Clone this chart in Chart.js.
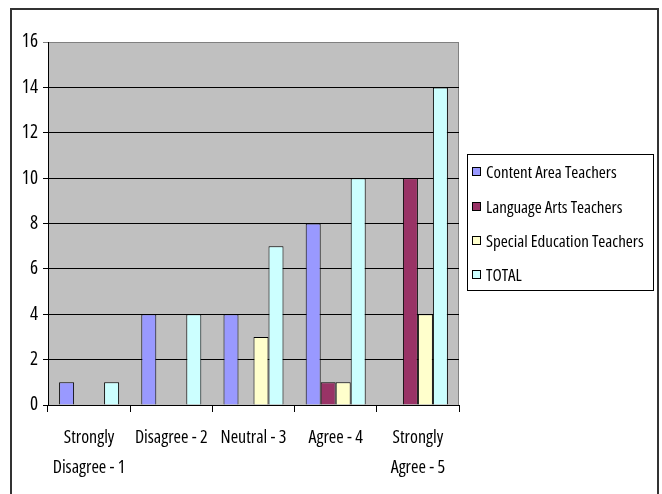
<!DOCTYPE html>
<html>
<head>
<meta charset="utf-8">
<script src="https://cdn.jsdelivr.net/npm/chart.js@4/dist/chart.umd.min.js"></script>
<style>
  body { margin: 0; background: #fff; }
  #wrap { position: relative; width: 662px; height: 494px; overflow: hidden; }
  #frame { position: absolute; left: 10px; top: 8px; width: 645px; height: 500px; border: 2px solid #333; }
  #chart { position: absolute; left: 0; top: 0; }
  #legend { position: absolute; left: 467px; top: 154px; width: 185px; height: 135px; border: 1px solid #000;
            font-family: "Open Sans", sans-serif; font-stretch: 75%; font-size: 17px; color: #000; }
  #legend div { position: absolute; left: 4px; white-space: nowrap; }
  #legend span { display: inline-block; width: 7px; height: 7px; border: 1px solid #000; margin-right: 5px; vertical-align: 2px; }
</style>
</head>
<body>
<div id="wrap">
  <div id="frame"></div>
  <canvas id="chart" width="662" height="494"></canvas>
  <div id="legend"></div>
</div>
<script>
const categorias = [["Strongly", "Disagree - 1"], "Disagree - 2", "Neutral - 3", "Agree - 4", ["Strongly", "Agree - 5"]];
const nomesSeries = ["Content Area Teachers", "Language Arts Teachers", "Special Education Teachers", "TOTAL"];
const contentArea = [1, 4, 4, 8, 0];
const languageArts = [0, 0, 0, 1, 10];
const specialEd = [0, 0, 3, 1, 4];
const total = [1, 4, 7, 10, 14];
const cores = ['#9999FF', '#993366', '#FFFFCC', '#CCFFFF'];
const fonte = '"Open Sans", sans-serif';

const valores = [contentArea, languageArts, specialEd, total];

const fundoPlot = {
  id: 'fundoPlot',
  beforeDraw(chart) {
    const { ctx, chartArea: a } = chart;
    ctx.save();
    ctx.fillStyle = '#C0C0C0';
    ctx.fillRect(a.left, a.top, a.right - a.left, a.bottom - a.top);
    ctx.strokeStyle = '#808080';
    ctx.lineWidth = 1;
    ctx.strokeRect(a.left + 0.5, a.top + 0.5, a.right - a.left - 1, a.bottom - a.top);
    ctx.restore();
  }
};

const ctx = document.getElementById('chart').getContext('2d');
const grafico = new Chart(ctx, {
  type: 'bar',
  data: {
    labels: categorias,
    datasets: nomesSeries.map((nome, i) => ({
      label: nome,
      data: valores[i],
      backgroundColor: cores[i],
      borderColor: '#000',
      borderWidth: 1,
      borderSkipped: 'start',
      barPercentage: 1,
      categoryPercentage: 0.73
    }))
  },
  options: {
    responsive: false,
    animation: false,
    layout: { padding: { left: 0, top: 42, right: 203, bottom: 0 } },
    plugins: { legend: { display: false }, tooltip: { enabled: false } },
    scales: {
      x: {
        afterFit: (s) => { s.height = 89; },
        grid: { drawOnChartArea: false, color: '#000', tickLength: 7 },
        border: { color: '#000' },
        ticks: { color: '#000', padding: 11, font: { family: fonte, style: 'normal', weight: 'condensed', size: 18, lineHeight: 1.65 }, maxRotation: 0, autoSkip: false }
      },
      y: {
        min: 0, max: 16,
        afterFit: (s) => { s.width = 48; },
        grid: { color: (c) => c.tick.value === 16 ? '#808080' : '#000', tickLength: 5 },
        border: { color: '#000' },
        ticks: { stepSize: 2, color: '#000', padding: 5, font: { family: fonte, style: 'normal', weight: 'condensed', size: 19 } }
      }
    }
  },
  plugins: [fundoPlot]
});

const legenda = document.getElementById('legend');
const topos = [5, 40, 74, 108];
nomesSeries.forEach((nome, i) => {
  const d = document.createElement('div');
  d.style.top = topos[i] + 'px';
  d.innerHTML = '<span style="background:' + cores[i] + '"></span>' + nome;
  legenda.appendChild(d);
});
</script>
</body>
</html>
